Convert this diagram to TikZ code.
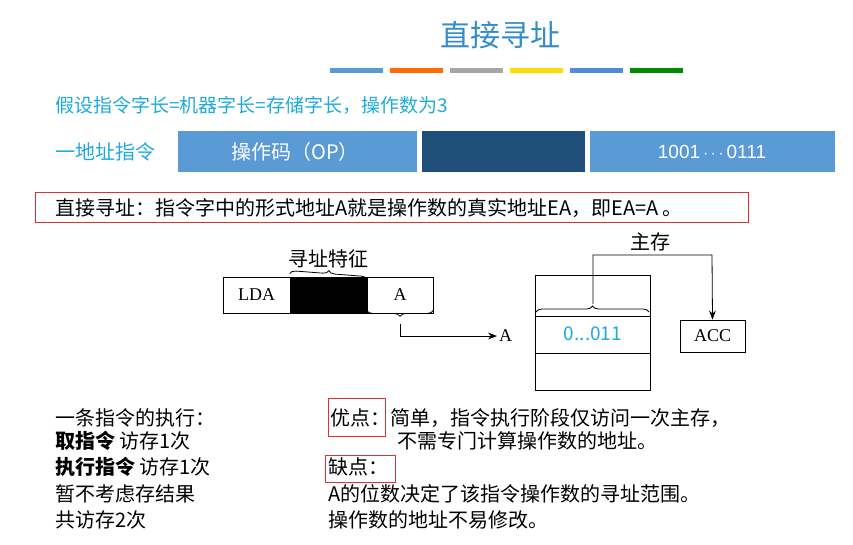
\documentclass[tikz,border=0pt]{standalone}
\usepackage{fontspec}
\setmainfont{Liberation Serif}
\newfontfamily\cjk{Noto Sans CJK SC}
\newfontfamily\sans{Liberation Sans}
\usetikzlibrary{arrows.meta,decorations.pathreplacing}
\definecolor{titleblue}{RGB}{52,140,200}
\definecolor{cyantext}{RGB}{30,170,220}
\definecolor{barlight}{RGB}{91,155,213}
\definecolor{bardark}{RGB}{31,78,121}
\definecolor{redbox}{RGB}{220,50,50}
\tikzset{
  cell/.style={draw,thick,minimum height=36pt,inner sep=0pt},
  txt/.style={anchor=west,inner sep=0pt,font=\cjk\fontsize{20}{20}\selectfont},
  brace/.style={decorate,decoration={brace,amplitude=6pt},thick},
  link/.style={thick,-{Stealth[length=9pt]}}
}
\begin{document}
\begin{tikzpicture}[x=1pt,y=-1pt]
\useasboundingbox (0,0) rectangle (853,544);
% title
\node[font=\cjk\fontsize{30}{30}\selectfont,text=titleblue] (title) at (500,35) {直接寻址};
\foreach \c [count=\i] in {barlight,orange!85!red,gray!70,yellow!80!orange,barlight!90!blue,green!55!black}
  \fill[\c] ({330+(\i-1)*60},68) rectangle ++(53,5);
% header lines
\node[txt,text=cyantext,font=\cjk\fontsize{19}{19}\selectfont] (assume) at (55,105) {假设指令字长=机器字长=存储字长，操作数为3};
\node[txt,text=cyantext] (onead) at (55,152) {一地址指令};
\fill[barlight] (178,131) rectangle (417,172);
\fill[bardark] (422,131) rectangle (585,172);
\fill[barlight] (590,131) rectangle (835,172);
\node[font=\cjk\fontsize{20}{20}\selectfont,text=white] (op) at (295,152) {操作码（OP）};
\node[font=\sans\fontsize{19}{19}\selectfont,text=white] (bits) at (712,152) {1001\,$\cdots$\,0111};
\draw[redbox,thick] (35,192) rectangle (748,222);
\node[txt] (def) at (55,208) {直接寻址：指令字中的形式地址A就是操作数的真实地址EA，即EA=A 。};
% instruction format
\node[cell,minimum width=67pt,font=\fontsize{18}{18}\selectfont] (lda) at (256.5,295) {LDA};
\node[cell,minimum width=77pt,fill=black] (mode) at (328.5,295) {};
\node[cell,minimum width=66pt,font=\fontsize{18}{18}\selectfont] (addr) at (400,295) {A};
\draw[brace] (mode.north west) ++(0,-3) -- ([yshift=-3pt]mode.north east) node[midway,above=5pt,font=\cjk\fontsize{20}{20}\selectfont] (feat) {寻址特征};
\draw[brace] ([yshift=3pt]addr.south east) -- ([yshift=3pt]addr.south west) coordinate[midway] (abrace);
\node[font=\fontsize{18}{18}\selectfont,anchor=west,inner sep=2pt] (ea) at (497,336) {A};
\draw[link] (400,324) |- (ea.west);
% memory
\draw[thick] (535,275) rectangle (650,390);
\draw[thick] (535,316) -- (650,316) (535,353) -- (650,353);
\node[font=\cjk\fontsize{19}{19}\selectfont,text=cyantext] (val) at (593,334) {0...011};
\draw[brace] (536,312) -- (649,312);
\node[font=\cjk\fontsize{20}{20}\selectfont] (mem) at (650,242) {主存};
\node[draw,thick,minimum width=65pt,minimum height=32pt,inner sep=0pt,font=\fontsize{18}{18}\selectfont] (acc) at (712.5,336) {ACC};
\draw[link] (593,304) |- (712,255) -- (acc.north);
% notes
\node[txt] (n1) at (55,418) {一条指令的执行：};
\node[txt] (n2) at (55,441) {\textbf{取指令} 访存1次};
\node[txt] (n3) at (55,467) {\textbf{执行指令} 访存1次};
\node[txt] (n4) at (55,494) {暂不考虑存结果};
\node[txt] (n5) at (55,520) {共访存2次};
\node[txt] (pro) at (330,418) {优点：简单，指令执行阶段仅访问一次主存，};
\node[txt] (pro2) at (397,441) {不需专门计算操作数的地址。};
\node[txt] (con) at (328,467) {缺点：};
\node[txt] (con1) at (328,494) {A的位数决定了该指令操作数的寻址范围。};
\node[txt] (con2) at (328,520) {操作数的地址不易修改。};
\draw[redbox,thick] (328,398) rectangle (385,436);
\draw[redbox,thick] (325,455) rectangle (395,482);
\end{tikzpicture}
\end{document}
